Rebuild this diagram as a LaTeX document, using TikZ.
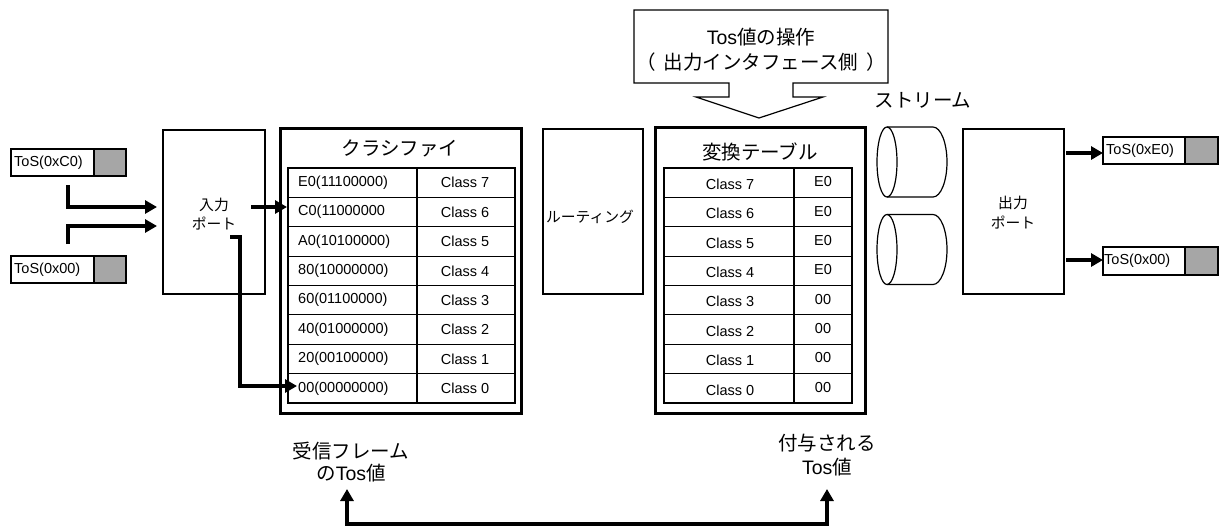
\documentclass[tikz,border=0pt]{standalone}
\usepackage{fontspec}
\setmainfont{Liberation Sans}
\newfontfamily\jp{Noto Sans CJK JP}
\usetikzlibrary{arrows.meta}
\definecolor{tosgray}{RGB}{166,166,166}
\begin{document}
\begin{tikzpicture}[x=1pt,y=-1pt,
  box/.style={draw, line width=1.2pt, inner sep=0pt, outer sep=0pt},
  heavybox/.style={draw, line width=3pt, inner sep=0pt, outer sep=0pt},
  arr/.style={line width=3.2pt, -{Triangle[length=12pt,width=13pt]}},
  txt/.style={inner sep=0pt, font=\fontsize{14.5}{17}\selectfont},
  jtxt/.style={inner sep=0pt, font=\fontsize{14.8}{17}\selectfont\jp},
  big/.style={inner sep=0pt, font=\fontsize{19.5}{23}\selectfont\jp},
  bigmix/.style={inner sep=0pt, font=\fontsize{19.5}{23}\selectfont},
  tosw/.style={draw, line width=1.2pt, fill=white, inner sep=0pt, outer sep=0pt, minimum height=27pt},
  tosg/.style={draw, line width=1.2pt, fill=tosgray, inner sep=0pt, outer sep=0pt, minimum height=27pt, minimum width=32pt}
]
\useasboundingbox (0,0) rectangle (1221,528);

% ---------- input ToS frames ----------
\node[tosw, minimum width=83pt, anchor=north west] (tosA) at (11,149) {};
\node[tosg, anchor=north west] (tosAg) at (94,149) {};
\node[txt, anchor=west] (tosAt) at (14,162.5) {ToS(0xC0)};
\node[tosw, minimum width=83pt, anchor=north west] (tosB) at (11,256) {};
\node[tosg, anchor=north west] (tosBg) at (94,256) {};
\node[txt, anchor=west] (tosBt) at (14,269.5) {ToS(0x00)};

% ---------- input port ----------
\node[box, minimum width=102pt, minimum height=164pt, anchor=north west] (inport) at (163,130) {};
\node[jtxt] (inportA) at (214,205) {入力};
\node[jtxt] (inportB) at (214,224) {ポート};

\coordinate (a1s) at (68,185);
\coordinate (a1e) at (157,207);
\coordinate (a2s) at (68,244);
\coordinate (a2e) at (157,226);
\draw[arr] (a1s) |- (a1e);
\draw[arr] (a2s) |- (a2e);

% ---------- classifier ----------
\node[heavybox, minimum width=241pt, minimum height=285pt, anchor=north west] (cls) at (280,128) {};
\node[big] (clsT) at (400,148) {クラシファイ};
\draw[line width=2pt] (288,168) rectangle (515,403);
\foreach \i in {1,...,7}{\draw[line width=1.2pt] (288,{168+\i*29.375}) -- (515,{168+\i*29.375});}
\draw[line width=1.2pt] (417,168) -- (417,403);
\foreach \a/\b [count=\i from 0] in {{E0(11100000)}/{Class 7},{C0(11000000}/{Class 6},{A0(10100000)}/{Class 5},{80(10000000)}/{Class 4},{60(01100000)}/{Class 3},{40(01000000)}/{Class 2},{20(00100000)}/{Class 1},{00(00000000)}/{Class 0}}{
  \node[txt, anchor=west] (cl\i) at (298,{168+(\i+0.5)*29.375}) {\a};
  \node[txt] (cr\i) at (465,{168+(\i+0.5)*29.375}) {\b};
}

\coordinate (p1s) at (251,207);
\coordinate (p1e) at (287,207);
\draw[arr] (p1s) -- (p1e);
\coordinate (p2s) at (230,237);
\coordinate (p2e) at (297,386);
\draw[arr] (p2s) -- (240,237) |- (p2e);

% ---------- routing ----------
\node[box, minimum width=100pt, minimum height=165pt, anchor=north west] (route) at (543,129) {};
\node[jtxt] (routeT) at (590,217) {ルーティング};

% ---------- callout ----------
\draw[line width=1.2pt] (634,10) -- (888,10) -- (888,83) -- (793,83) -- (793,97) -- (823,97) -- (759,118) -- (696,97) -- (729,97) -- (729,83) -- (634,83) -- cycle;
\node[bigmix] (callA) at (761,37) {Tos{\jp 値の操作}};
\node[big] (callB) at (761,62) {（\kern8pt 出力インタフェース側\kern8pt ）};

% ---------- conversion table ----------
\node[heavybox, minimum width=210pt, minimum height=286pt, anchor=north west] (conv) at (655,127) {};
\node[big] (convT) at (760,152) {変換テーブル};
\draw[line width=2pt] (664,168) rectangle (852,403);
\foreach \i in {1,...,7}{\draw[line width=1.2pt] (664,{168+\i*29.375}) -- (852,{168+\i*29.375});}
\draw[line width=1.2pt] (794,168) -- (794,403);
\foreach \a/\b [count=\i from 0] in {{Class 7}/E0,{Class 6}/E0,{Class 5}/E0,{Class 4}/E0,{Class 3}/00,{Class 2}/00,{Class 1}/00,{Class 0}/00}{
  \node[txt] (vl\i) at (730,{168+(\i+0.5)*29.375+1.5}) {\a};
  \node[txt] (vr\i) at (823,{168+(\i+0.5)*29.375-1}) {\b};
}

% ---------- streams ----------
\node[big] (streamT) at (923,100) {ストリーム};
\foreach \c in {162,249.5}{
  \draw[line width=1.2pt] (887,{\c-35}) -- (933,{\c-35}) .. controls (940.7,{\c-35}) and (947,{\c-19.3}) .. (947,\c) .. controls (947,{\c+19.3}) and (940.7,{\c+35}) .. (933,{\c+35}) -- (887,{\c+35});
  \draw[line width=1.2pt] (887,\c) ellipse [x radius=10pt, y radius=35pt];
}

% ---------- output port ----------
\node[box, minimum width=101pt, minimum height=165pt, anchor=north west] (outport) at (963,129) {};
\node[jtxt] (outportA) at (1013,203) {出力};
\node[jtxt] (outportB) at (1013,223) {ポート};

% ---------- output ToS frames ----------
\node[tosw, minimum width=82pt, anchor=north west] (tosC) at (1103,137) {};
\node[tosg, minimum width=33pt, anchor=north west] (tosCg) at (1185,137) {};
\node[txt, anchor=west] (tosCt) at (1106,150.5) {ToS(0xE0)};
\node[tosw, minimum width=82pt, minimum height=28pt, anchor=north west] (tosD) at (1103,247) {};
\node[tosg, minimum width=33pt, minimum height=28pt, anchor=north west] (tosDg) at (1185,247) {};
\node[txt, anchor=west] (tosDt) at (1104,261) {ToS(0x00)};

\coordinate (o1s) at (1066,153);
\coordinate (o2s) at (1066,260);
\draw[arr] (o1s) -- (tosC.west |- o1s);
\draw[arr] (o2s) -- (tosD.west |- o2s);

% ---------- bottom labels ----------
\node[big] (recvA) at (351,451) {受信フレーム};
\node[bigmix] (recvB) at (351,473) {{\jp の}Tos{\jp 値}};
\node[big] (giveA) at (827,443) {付与される};
\node[bigmix] (giveB) at (827,467) {Tos{\jp 値}};
\coordinate (bl) at (347,489);
\coordinate (br) at (827,489);
\draw[line width=3.2pt, {Triangle[length=12pt,width=13pt]}-{Triangle[length=12pt,width=13pt]}] (bl) -- ++(0,35) -| (br);
\end{tikzpicture}
\end{document}
